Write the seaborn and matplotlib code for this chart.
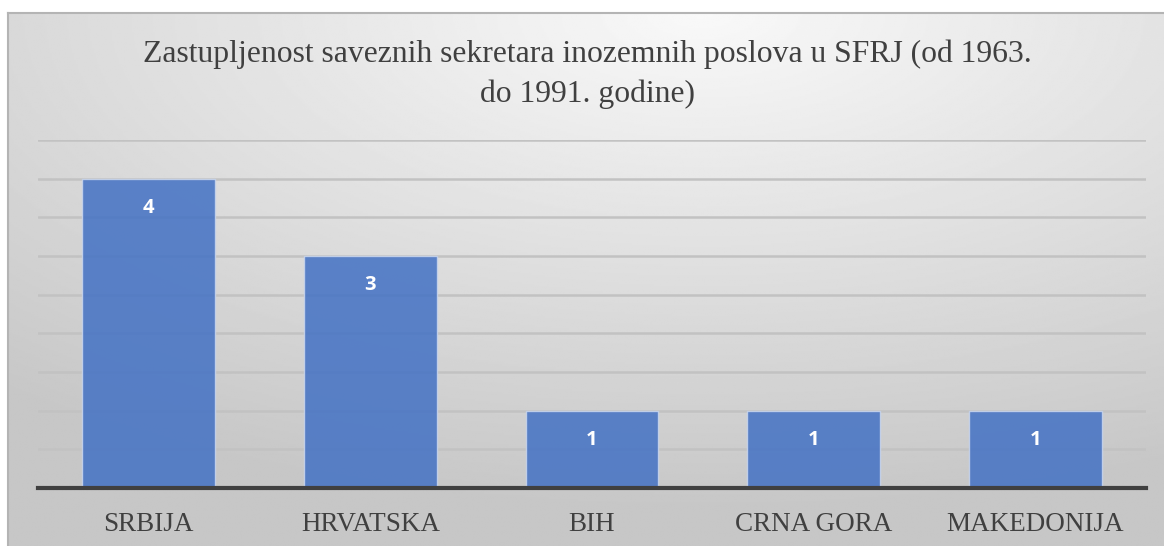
import matplotlib
matplotlib.use("Agg")
import matplotlib.pyplot as plt
import numpy as np
import pandas as pd
import seaborn as sns

categories = ["SRBIJA", "HRVATSKA", "BIH", "CRNA GORA", "MAKEDONIJA"]
values = [4, 3, 1, 1, 1]
title = "Zastupljenost saveznih sekretara inozemnih poslova u SFRJ (od 1963.\ndo 1991. godine)"

df = pd.DataFrame({"drzava": categories, "broj": values})

sns.set_theme(style="white")
plt.rcParams["font.family"] = ["Liberation Serif", "DejaVu Serif"]

W, H = 1164, 546
fig = plt.figure(figsize=(W / 100, H / 100), dpi=100)
fig.patch.set_facecolor("white")

# chart area with radial grey gradient
bg = fig.add_axes([8 / W, 0, 1 - 8 / W, (H - 13) / H])
ny, nx = 300, 640
yy, xx = np.mgrid[0:1:ny * 1j, 0:1:nx * 1j]
r = np.sqrt(((xx - 0.6) * 1.0) ** 2 + ((yy - 0.0) * 1.0) ** 2)
shade = np.clip(0.975 - 0.21 * r, 0.78, 0.975)
bg.imshow(shade, cmap="gray", vmin=0, vmax=1, aspect="auto", extent=[0, 1, 1, 0])
bg.set_xticks([])
bg.set_yticks([])
for side, sp in bg.spines.items():
    sp.set_color("#b4b4b4")
    sp.set_linewidth(1.5)
bg.spines["right"].set_visible(False)
bg.spines["bottom"].set_visible(False)

ax = fig.add_axes([38 / W, (H - 488) / H, (1146 - 38) / W, (488 - 140) / H])
ax.patch.set_alpha(0)
sns.barplot(data=df, x="drzava", y="broj", ax=ax, width=0.6,
            color="#4472C4", alpha=0.86, edgecolor="#c9d6ee", linewidth=1.0,
            saturation=1, zorder=3)

ax.set_ylim(0, 4.5)
ax.set_xlim(-0.5, len(categories) - 0.5)
ax.set_yticks(np.arange(0.5, 4.51, 0.5))
ax.yaxis.grid(True, color="#c2c2c2", linewidth=1.8, zorder=0)
ax.set_axisbelow(True)
ax.tick_params(axis="y", length=0, labelleft=False)
ax.tick_params(axis="x", length=0, pad=17, labelsize=19.5, labelcolor="#404040")
ax.set_xlabel("")
ax.set_ylabel("")
for side in ["top", "right", "left"]:
    ax.spines[side].set_visible(False)
ax.spines["bottom"].set_color("#404040")
ax.spines["bottom"].set_linewidth(3)
ax.spines["bottom"].set_zorder(5)

for i, v in enumerate(values):
    ax.annotate(str(v), (i, v), xytext=(0, -21), textcoords="offset points",
                ha="center", va="center", color="white", fontsize=14.5,
                fontweight="bold", family=["Open Sans", "DejaVu Sans"], zorder=6)

fig.text(587 / W, 1 - 74 / H, title, ha="center", va="center",
         fontsize=22.8, color="#404040", linespacing=1.45)

fig.savefig("out.png", dpi=100)
